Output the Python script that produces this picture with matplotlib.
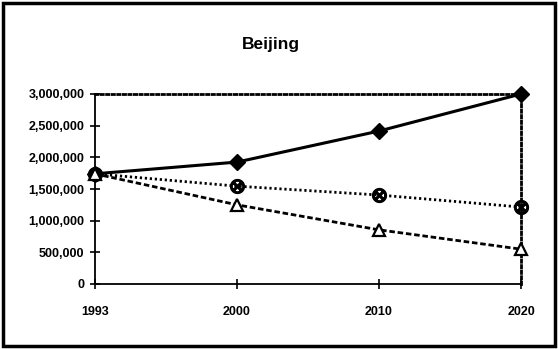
import numpy as np
import matplotlib.pyplot as plt
from matplotlib.patches import Rectangle
from matplotlib.ticker import FuncFormatter

plt.rcParams['font.family'] = ['Liberation Sans', 'DejaVu Sans']

years = ['1993', '2000', '2010', '2020']
high = [1740000, 1925000, 2415000, 3000000]
mid = [1740000, 1545000, 1405000, 1215000]
low = [1740000, 1250000, 855000, 550000]

fig = plt.figure(figsize=(5.58, 3.49), dpi=100)
ax = fig.add_axes([95/558, 1-284/349, (521-95)/558, (284-94)/349])

x = np.arange(len(years))
ax.plot(x, high, color='black', lw=2.2, marker='D', ms=8, mfc='black', mec='black', clip_on=False, zorder=5)
ax.plot(x, mid, color='black', lw=2, ls=(0, (0.8, 1.0)), marker='$\\otimes$', ms=10, mec='black', clip_on=False, zorder=5)
ax.plot(x, low, color='black', lw=2, ls=(0, (2, 1.0)), marker='^', ms=8, mfc='white', mec='black', mew=1.6, clip_on=False, zorder=5)

ax.set_xlim(0, 3)
ax.set_ylim(0, 3000000)
ax.set_xticks(x)
ax.set_xticklabels(years)
ax.set_yticks(np.arange(0, 3000001, 500000))
ax.yaxis.set_major_formatter(FuncFormatter(lambda v, p: f'{int(v):,}'))

ax.tick_params(direction='inout', length=7, width=1.2, color='black', pad=4, labelsize=9)
ax.tick_params(axis='x', pad=12)
for lab in ax.get_xticklabels() + ax.get_yticklabels():
    lab.set_fontweight('bold')

ax.spines['left'].set_linewidth(1.3)
ax.spines['bottom'].set_linewidth(1.3)
for s in ['top', 'right']:
    ax.spines[s].set_linestyle((0, (0.8, 1.2)))
    ax.spines[s].set_linewidth(2)

fig.text(0.485, 1-45/349, 'Beijing', ha='center', va='center', fontsize=12.5, fontweight='bold')

# outer chart border
fig.patches.append(Rectangle((3/558, 3/349), 552/558, 343/349, transform=fig.transFigure,
                             fill=False, lw=2.5, ec='black'))

fig.savefig('out.png', dpi=100)
